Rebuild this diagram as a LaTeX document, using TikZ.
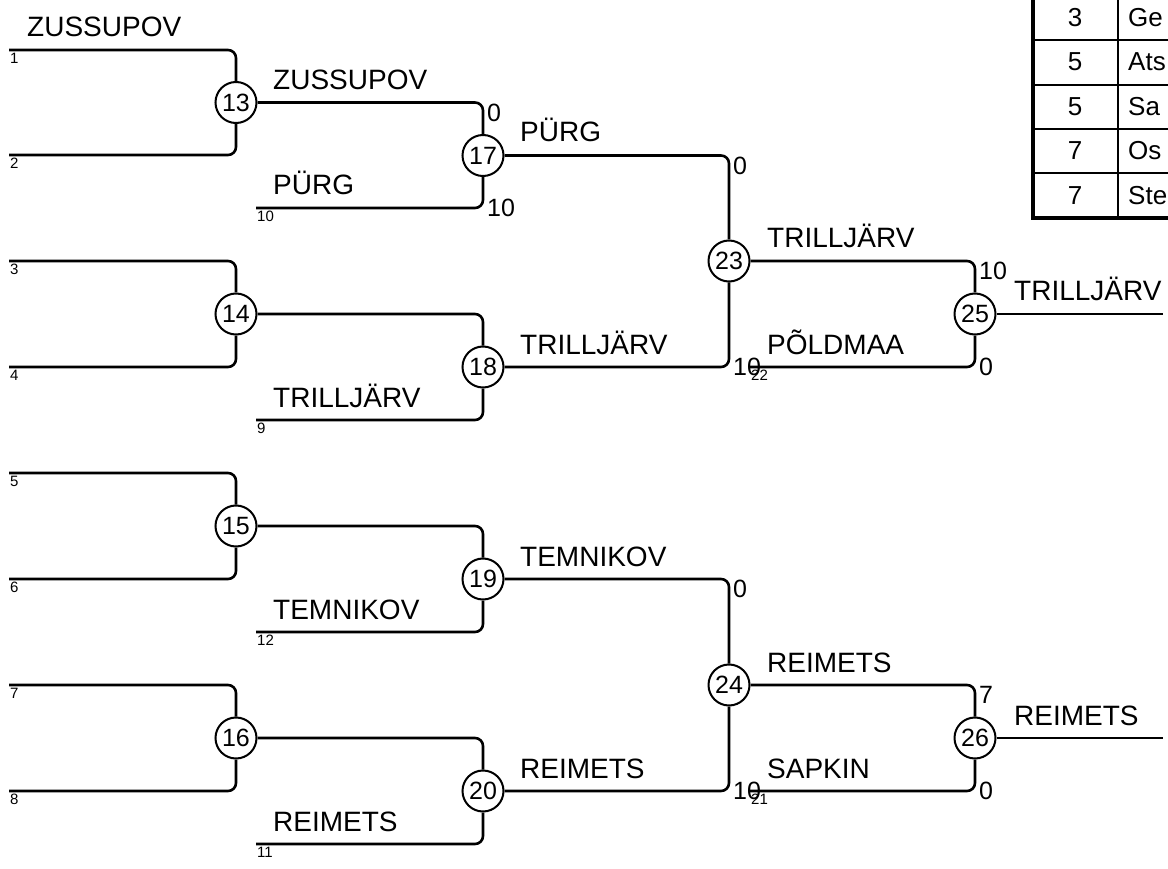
\documentclass[tikz,border=0pt]{standalone}
\usepackage{fontspec}
\setmainfont{Liberation Sans}
\begin{document}
\begin{tikzpicture}[x=1pt,y=-1pt,
  conn/.style={line width=2.6pt, rounded corners=8pt},
  bout/.style={circle, draw, line width=2pt, minimum size=41pt, inner sep=0pt, font=\fontsize{25}{25}\selectfont},
  plabel/.style={anchor=base west, inner sep=0pt, font=\fontsize{28}{28}\selectfont},
  seednum/.style={anchor=north west, inner sep=0pt, font=\fontsize{15}{15}\selectfont},
  topscore/.style={anchor=north west, inner sep=0pt, font=\fontsize{25}{25}\selectfont},
  botscore/.style={anchor=west, inner sep=0pt, font=\fontsize{25}{25}\selectfont},
  tnum/.style={anchor=center, inner sep=0pt, font=\fontsize{26}{26}\selectfont},
  tname/.style={anchor=west, inner sep=0pt, font=\fontsize{26}{26}\selectfont},
  thin/.style={line width=2pt},
  thick/.style={line width=4.5pt}]
\useasboundingbox (0,0) rectangle (1168,869);
\clip (0,0) rectangle (1168,869);
% circles
\node[bout] (c13) at (236,102.5) {13};
\node[bout] (c14) at (236,314) {14};
\node[bout] (c15) at (236,526) {15};
\node[bout] (c16) at (236,738) {16};
\node[bout] (c17) at (483,155.5) {17};
\node[bout] (c18) at (483,367) {18};
\node[bout] (c19) at (483,579) {19};
\node[bout] (c20) at (483,791) {20};
\node[bout] (c23) at (729,261) {23};
\node[bout] (c24) at (729,685) {24};
\node[bout] (c25) at (975,314) {25};
\node[bout] (c26) at (975,738) {26};
% entry points
\coordinate (p1) at (9,50);
\coordinate (p2) at (9,155);
\coordinate (p3) at (9,261);
\coordinate (p4) at (9,367);
\coordinate (p5) at (9,473);
\coordinate (p6) at (9,579);
\coordinate (p7) at (9,685);
\coordinate (p8) at (9,791);
\coordinate (p10) at (256,208);
\coordinate (p9) at (256,420);
\coordinate (p12) at (256,632);
\coordinate (p11) at (256,844);
\coordinate (p22) at (750,367);
\coordinate (p21) at (750,791);
\coordinate (e25) at (1163,314);
\coordinate (e26) at (1163,738);
% connectors
\draw[conn] (p1) -| (c13); \draw[conn] (p2) -| (c13);
\draw[conn] (p3) -| (c14); \draw[conn] (p4) -| (c14);
\draw[conn] (p5) -| (c15); \draw[conn] (p6) -| (c15);
\draw[conn] (p7) -| (c16); \draw[conn] (p8) -| (c16);
\draw[conn] (c13) -| (c17); \draw[conn] (p10) -| (c17);
\draw[conn] (c14) -| (c18); \draw[conn] (p9) -| (c18);
\draw[conn] (c15) -| (c19); \draw[conn] (p12) -| (c19);
\draw[conn] (c16) -| (c20); \draw[conn] (p11) -| (c20);
\draw[conn] (c17) -| (c23); \draw[conn] (c18) -| (c23);
\draw[conn] (c19) -| (c24); \draw[conn] (c20) -| (c24);
\draw[conn] (c23) -| (c25); \draw[conn] (p22) -| (c25);
\draw[conn] (c24) -| (c26); \draw[conn] (p21) -| (c26);
\draw[conn] (c25) -- (e25);
\draw[conn] (c26) -- (e26);
% name labels
\node[plabel] (l1) at (27,37) {ZUSSUPOV};
\node[plabel] (l13) at (273,89.5) {ZUSSUPOV};
\node[plabel] (l10) at (273,195) {PÜRG};
\node[plabel] (l9) at (273,407) {TRILLJÄRV};
\node[plabel] (l12) at (273,619) {TEMNIKOV};
\node[plabel] (l11) at (273,831) {REIMETS};
\node[plabel] (l17) at (520,142) {PÜRG};
\node[plabel] (l18) at (520,354) {TRILLJÄRV};
\node[plabel] (l19) at (520,566) {TEMNIKOV};
\node[plabel] (l20) at (520,778) {REIMETS};
\node[plabel] (l23) at (767,248) {TRILLJÄRV};
\node[plabel] (l22) at (767,354) {PÕLDMAA};
\node[plabel] (l24) at (767,672) {REIMETS};
\node[plabel] (l21) at (767,778) {SAPKIN};
\node[plabel] (l25) at (1014,301) {TRILLJÄRV};
\node[plabel] (l26) at (1014,725) {REIMETS};
% seed numbers
\node[seednum] (s1) at (10,53) {1};
\node[seednum] (s2) at (10,158) {2};
\node[seednum] (s3) at (10,264) {3};
\node[seednum] (s4) at (10,370) {4};
\node[seednum] (s5) at (10,476) {5};
\node[seednum] (s6) at (10,582) {6};
\node[seednum] (s7) at (10,688) {7};
\node[seednum] (s8) at (10,794) {8};
\node[seednum] (s10) at (257,211) {10};
\node[seednum] (s9) at (257,423) {9};
\node[seednum] (s12) at (257,635) {12};
\node[seednum] (s11) at (257,847) {11};
\node[seednum] (s22) at (751,370) {22};
\node[seednum] (s21) at (751,794) {21};
% scores
\node[topscore] (t17) at (487,104) {0};
\node[botscore] (b17) at (487,208) {10};
\node[topscore] (t23) at (733,157) {0};
\node[botscore] (b23) at (733,367) {10};
\node[topscore] (t24) at (733,580) {0};
\node[botscore] (b24) at (733,791) {10};
\node[topscore] (t25) at (979,262) {10};
\node[botscore] (b25) at (979,367) {0};
\node[topscore] (t26) at (979,686) {7};
\node[botscore] (b26) at (979,791) {0};
% table
\draw[thin] (1033,40) -- (1180,40);
\draw[thin] (1033,85) -- (1180,85);
\draw[thin] (1033,129) -- (1180,129);
\draw[thin] (1033,173) -- (1180,173);
\draw[thin] (1118,-10) -- (1118,218);
\draw[thick] (1033,-10) -- (1033,218) -- (1180,218);
\node[tnum] (n1) at (1075,18) {3};
\node[tnum] (n2) at (1075,62) {5};
\node[tnum] (n3) at (1075,107) {5};
\node[tnum] (n4) at (1075,151) {7};
\node[tnum] (n5) at (1075,196) {7};
\node[tname] (m1) at (1128,18) {Ge};
\node[tname] (m2) at (1128,62) {Ats};
\node[tname] (m3) at (1128,107) {Sa};
\node[tname] (m4) at (1128,151) {Os};
\node[tname] (m5) at (1128,196) {Ste};
\end{tikzpicture}
\end{document}
